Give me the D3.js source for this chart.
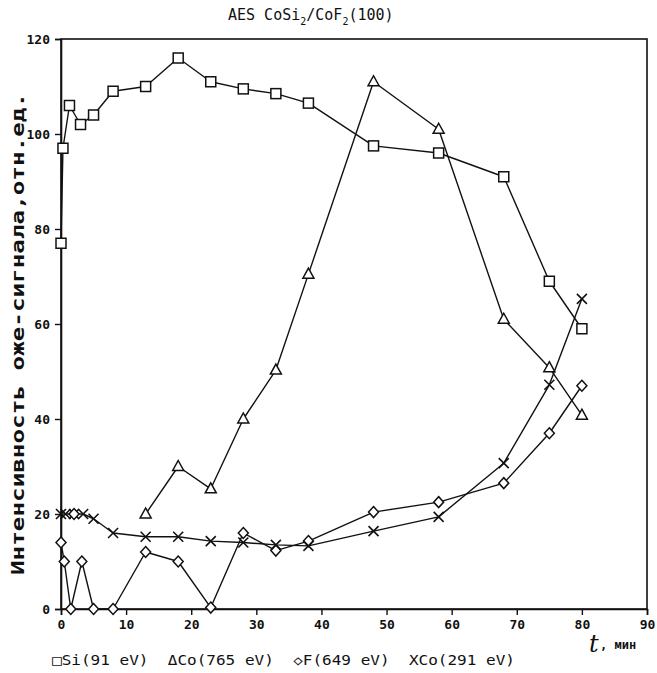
<!DOCTYPE html>
<html>
<head>
<meta charset="utf-8">
<script src="https://cdn.jsdelivr.net/npm/d3@7"></script>
<style>
  html, body { margin: 0; padding: 0; background: #fff; }
  svg { display: block; }
</style>
</head>
<body>
<svg id="chart" width="657" height="673"></svg>
<script>
// ---- data ----
const xTicks = [0, 10, 20, 30, 40, 50, 60, 70, 80, 90];
const yTicks = [0, 20, 40, 60, 80, 100, 120];

const siT = [0, 0.3, 1.3, 3, 5, 8, 13, 18, 23, 28, 33, 38, 48, 58, 68, 75, 80];
const siV = [77, 97, 106, 102, 104, 109, 110, 116, 111, 109.5, 108.5, 106.5, 97.5, 96, 91, 69, 59];

const co765T = [13, 18, 23, 28, 33, 38, 48, 58, 68, 75, 80];
const co765V = [20, 30, 25.3, 40, 50.3, 70.5, 111, 101, 61, 50.8, 40.8];

const fT = [0, 0.5, 1.5, 3.2, 5, 8, 13, 18, 23, 28, 33, 38, 48, 58, 68, 75, 80];
const fV = [14, 10, 0, 10, 0, 0, 12, 10, 0.3, 16, 12.3, 14.3, 20.4, 22.5, 26.5, 37, 47];

const co291T = [0, 0.7, 2, 3.4, 5, 8, 13, 18, 23, 28, 33, 38, 48, 58, 68, 75, 80];
const co291V = [20, 20, 20, 20, 19, 16, 15.2, 15.2, 14.3, 14, 13.5, 13.3, 16.4, 19.4, 30.7, 47.2, 65.3];

// stray diamond drawn on the Co(291) curve at t≈2
const strayT = [2];
const strayV = [20];

const legendItems = ["\u25A1Si(91 eV)", "\u0394Co(765 eV)", "\u25C7F(649 eV)", "XCo(291 eV)"];

// ---- layout ----
const svg = d3.select("#chart");
const x = d3.scaleLinear().domain([0, 90]).range([61, 647]);
const y = d3.scaleLinear().domain([0, 120]).range([609, 39]);
const mono = "'DejaVu Sans Mono', 'Liberation Mono', monospace";
const ink = "#111";

// frame
svg.append("rect")
  .attr("x", x(0)).attr("y", y(120))
  .attr("width", x(90) - x(0)).attr("height", y(0) - y(120))
  .attr("fill", "none").attr("stroke", ink).attr("stroke-width", 1.6);

// axes
const xAxis = svg.append("g").attr("transform", `translate(0,${y(0)})`)
  .call(d3.axisBottom(x).tickValues(xTicks).tickSize(6).tickPadding(5).tickFormat(d3.format("d")));
const yAxis = svg.append("g").attr("transform", `translate(${x(0)},0)`)
  .call(d3.axisLeft(y).tickValues(yTicks).tickSize(6).tickPadding(5).tickFormat(d3.format("d")));
[xAxis, yAxis].forEach(g => {
  g.select(".domain").attr("stroke", ink).attr("stroke-width", 1.6);
  g.selectAll(".tick line").attr("stroke", ink).attr("stroke-width", 1.4);
  g.selectAll(".tick text").attr("fill", ink)
    .style("font-family", mono).style("font-weight", "bold").style("font-size", "13px");
});

// lines
const line = d3.line().x(d => x(d[0])).y(d => y(d[1]));
const zip = (a, b) => a.map((v, i) => [v, b[i]]);
const series = [
  { pts: zip(siT, siV), sym: "square" },
  { pts: zip(co765T, co765V), sym: "triangle" },
  { pts: zip(fT, fV), sym: "diamond" },
  { pts: zip(co291T, co291V), sym: "cross" }
];

series.forEach(s => {
  svg.append("path").attr("d", line(s.pts))
    .attr("fill", "none").attr("stroke", ink).attr("stroke-width", 1.4)
    .attr("stroke-linejoin", "round");
});

function marker(g, sym, cx, cy) {
  if (sym === "square") {
    g.append("rect").attr("x", cx - 5).attr("y", cy - 5).attr("width", 10).attr("height", 10)
      .attr("fill", "#fff").attr("stroke", ink).attr("stroke-width", 1.5);
  } else if (sym === "triangle") {
    g.append("path").attr("d", `M${cx},${cy - 6}L${cx + 5.5},${cy + 4}L${cx - 5.5},${cy + 4}Z`)
      .attr("fill", "#fff").attr("stroke", ink).attr("stroke-width", 1.5);
  } else if (sym === "diamond") {
    g.append("path").attr("d", `M${cx},${cy - 5.5}L${cx + 5},${cy}L${cx},${cy + 5.5}L${cx - 5},${cy}Z`)
      .attr("fill", "#fff").attr("stroke", ink).attr("stroke-width", 1.5);
  } else {
    g.append("path").attr("d", `M${cx - 5},${cy - 5}L${cx + 5},${cy + 5}M${cx + 5},${cy - 5}L${cx - 5},${cy + 5}`)
      .attr("fill", "none").attr("stroke", ink).attr("stroke-width", 1.6);
  }
}

series.forEach(s => {
  const g = svg.append("g");
  s.pts.forEach(p => marker(g, s.sym, x(p[0]), y(p[1])));
});
const gs = svg.append("g");
strayT.forEach((t, i) => marker(gs, "diamond", x(t), y(strayV[i])));

// title
const title = svg.append("text").attr("x", 228).attr("y", 20)
  .attr("fill", ink).style("font-family", mono).style("font-size", "15px");
title.append("tspan").text("AES CoSi");
title.append("tspan").attr("dy", 5).style("font-size", "10px").text("2");
title.append("tspan").attr("dy", -5).text("/CoF");
title.append("tspan").attr("dy", 5).style("font-size", "10px").text("2");
title.append("tspan").attr("dy", -5).text("(100)");

// y label
svg.append("text")
  .attr("transform", `translate(24,${(y(0) + y(120)) / 2 + 10}) rotate(-90)`)
  .attr("text-anchor", "middle")
  .attr("textLength", 482).attr("lengthAdjust", "spacingAndGlyphs")
  .attr("fill", ink).style("font-family", mono).style("font-size", "18px").style("font-weight", "bold")
  .text("Интенсивность оже-сигнала,отн.ед.");

// x label
svg.append("text").attr("x", 589).attr("y", 652)
  .attr("fill", ink).style("font-family", "'DejaVu Serif', serif").style("font-style", "italic")
  .style("font-size", "24px").text("t");
svg.append("text").attr("x", 600).attr("y", 649)
  .attr("fill", ink).style("font-family", mono).style("font-size", "12px").style("font-weight", "bold")
  .text(", мин");

// legend
svg.append("text").attr("x", 52).attr("y", 665)
  .attr("textLength", 463).attr("lengthAdjust", "spacingAndGlyphs")
  .attr("fill", ink).style("font-family", mono).style("font-size", "14px")
  .attr("xml:space", "preserve")
  .text(legendItems.join("  "));
</script>
</body>
</html>
